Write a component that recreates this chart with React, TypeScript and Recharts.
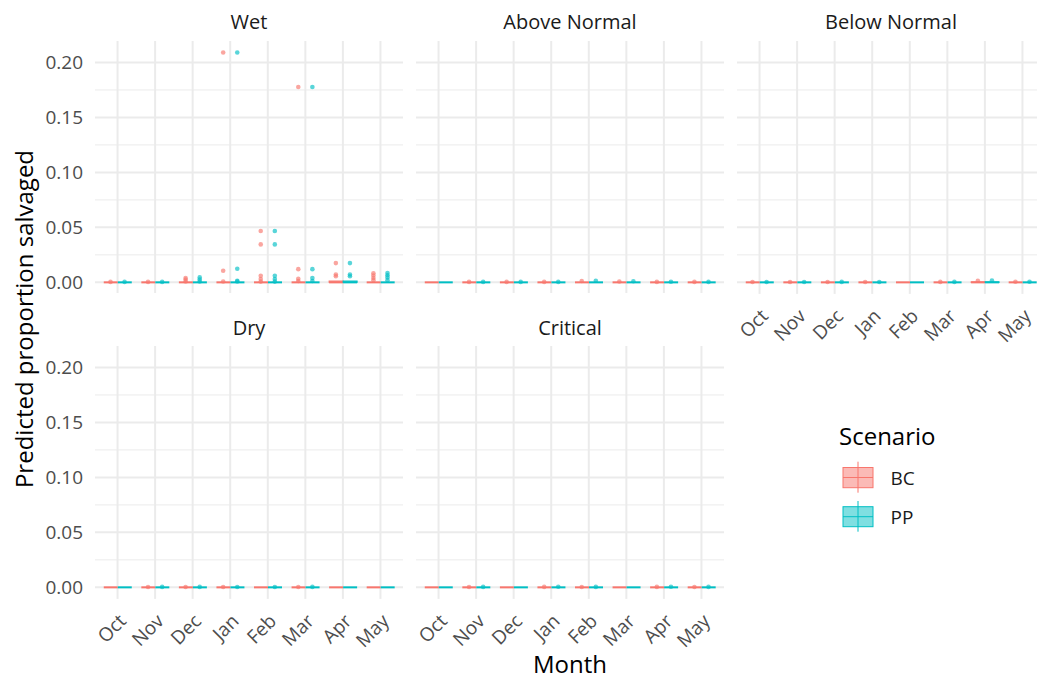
import { ComposedChart, Bar, Scatter, XAxis, YAxis, CartesianGrid, ReferenceLine } from "recharts";

// month categories and facets
const months = ["Oct", "Nov", "Dec", "Jan", "Feb", "Mar", "Apr", "May"];
const yTicks = [0, 0.05, 0.1, 0.15, 0.2];
const yMinor = [0.025, 0.075, 0.125, 0.175];

// box stats per month: [q1, median, q3]
const wetBoxBC = [[0, 0, 0], [0, 0, 0], [0, 0, 0], [0, 0, 0], [0, 0, 0], [0, 0, 0], [0, 0, 0.0012], [0, 0, 0]];
const wetBoxPP = [[0, 0, 0], [0, 0, 0], [0, 0, 0], [0, 0, 0], [0, 0, 0], [0, 0, 0], [0, 0, 0.0012], [0, 0, 0]];
const aboveBoxBC = [[0, 0, 0], [0, 0, 0], [0, 0, 0], [0, 0, 0], [0, 0, 0], [0, 0, 0], [0, 0, 0], [0, 0, 0]];
const aboveBoxPP = [[0, 0, 0], [0, 0, 0], [0, 0, 0], [0, 0, 0], [0, 0, 0], [0, 0, 0], [0, 0, 0], [0, 0, 0]];
const belowBoxBC = [[0, 0, 0], [0, 0, 0], [0, 0, 0], [0, 0, 0], [0, 0, 0], [0, 0, 0], [0, 0, 0.0004], [0, 0, 0]];
const belowBoxPP = [[0, 0, 0], [0, 0, 0], [0, 0, 0], [0, 0, 0], [0, 0, 0], [0, 0, 0], [0, 0, 0.0004], [0, 0, 0]];
const dryBoxBC = [[0, 0, 0], [0, 0, 0], [0, 0, 0], [0, 0, 0], [0, 0, 0], [0, 0, 0], [0, 0, 0], [0, 0, 0]];
const dryBoxPP = [[0, 0, 0], [0, 0, 0], [0, 0, 0], [0, 0, 0], [0, 0, 0], [0, 0, 0], [0, 0, 0], [0, 0, 0]];
const critBoxBC = [[0, 0, 0], [0, 0, 0], [0, 0, 0], [0, 0, 0], [0, 0, 0], [0, 0, 0], [0, 0, 0], [0, 0, 0]];
const critBoxPP = [[0, 0, 0], [0, 0, 0], [0, 0, 0], [0, 0, 0], [0, 0, 0], [0, 0, 0], [0, 0, 0], [0, 0, 0]];

// outliers per month
const wetOutBC = [[0.0004], [0.0004], [0.0008, 0.0025, 0.004], [0.0008, 0.0105, 0.209],
  [0.0007, 0.003, 0.006, 0.0345, 0.0467], [0.0012, 0.0032, 0.012, 0.1776], [0.0055, 0.0072, 0.0175], [0.002, 0.004, 0.0062, 0.0083]];
const wetOutPP = [[0.0004], [0.0004], [0.0008, 0.0025, 0.0045], [0.0008, 0.0015, 0.0123, 0.209],
  [0.0007, 0.003, 0.006, 0.0345, 0.0467], [0.0012, 0.004, 0.012, 0.1776], [0.0055, 0.0072, 0.0175], [0.002, 0.0045, 0.0065, 0.0085]];
const aboveOutBC = [[], [0.0004], [0.0004], [0.0004], [0.0012], [0.0008], [0.0004], [0.0004]];
const aboveOutPP = [[], [0.0004], [0.0004], [0.0004], [0.0015], [0.001], [0.0006], [0.0004]];
const belowOutBC = [[0.0003], [0.0003], [0.0003], [0.0003], [], [0.0004], [0.0015], [0.0005]];
const belowOutPP = [[0.0003], [0.0003], [0.0004], [0.0003], [], [0.0004], [0.0016], [0.0006]];
const dryOutBC = [[], [0.0003], [0.0003], [0.0003], [], [0.0003], [], []];
const dryOutPP = [[], [0.0004], [0.0004], [0.0003], [0.0003], [0.0004], [], []];
const critOutBC = [[], [0.0003], [], [0.0004], [0.0003], [], [0.0004], [0.0003]];
const critOutPP = [[], [0.0004], [], [0.0005], [0.0004], [], [0.0005], [0.0004]];

const BC = "#F8766D";
const PP = "#00BFC4";
const FONT = "Open Sans";
const PLOT_W = 308;
const PLOT_H = 252.9;
const YAXIS_W = 95;
const XAXIS_H = 60;
const SIDE_PAD = 20;
const DODGE = 0.1875;

function BoxShape(props: any) {
  const { x, y, width, height, stats, color } = props;
  if (!stats || x == null || y == null) return null;
  const [q1, med, q3] = stats;
  const hh = height || 0;
  const top = Math.min(y, y + hh);
  const h = Math.abs(hh);
  const medY = q3 > q1 ? top + (h * (q3 - med)) / (q3 - q1) : top;
  return (
    <g>
      <rect x={x} y={top} width={width} height={h} fill={color} fillOpacity={0.5} stroke={color} strokeWidth={1} />
      <line x1={x} x2={x + width} y1={medY} y2={medY} stroke={color} strokeWidth={2} />
    </g>
  );
}

function MonthTick({ x, y, payload }: any) {
  const ax = x + 9.8;
  const ay = y + 23.4;
  return (
    <text x={ax} y={ay} transform={`rotate(-45 ${ax} ${ay})`} textAnchor="end"
      fontSize={19} fill="#4d4d4d" fontFamily={FONT}>
      {payload.value}
    </text>
  );
}

function Panel({ left, top, bc, pp, bcOut, ppOut, showY, showX }: any) {
  const rows = months.map((m, i) => ({
    month: m, bc: bc[i], pp: pp[i],
    bcRange: [bc[i][0], bc[i][2]], ppRange: [pp[i][0], pp[i][2]],
  }));
  const bcPts = bcOut.flatMap((vals: number[], i: number) => vals.map(v => ({ x: i + 1 - DODGE, y: v })));
  const ppPts = ppOut.flatMap((vals: number[], i: number) => vals.map(v => ({ x: i + 1 + DODGE, y: v })));
  const yw = showY ? YAXIS_W : 0;
  const ml = showY ? 0 : SIDE_PAD;
  const xh = showX ? XAXIS_H : 0;
  return (
    <div style={{ position: "absolute", left: left - yw - ml, top }}>
      <ComposedChart width={ml + yw + PLOT_W + SIDE_PAD} height={PLOT_H + xh} data={rows}
        margin={{ top: 0, right: SIDE_PAD, bottom: 0, left: ml }} barGap={0}>
        <CartesianGrid stroke="#ebebeb" strokeWidth={2} horizontalValues={yTicks} verticalValues={months} />
        {yMinor.map(v => (
          <ReferenceLine key={v} y={v} stroke="#ebebeb" strokeWidth={1} />
        ))}
        <XAxis dataKey="month" type="category" hide={!showX} height={XAXIS_H}
          padding={{ left: 3.76, right: 3.76 }} axisLine={false} tickLine={false}
          tickSize={0} tickMargin={0} tick={<MonthTick />} interval={0} />
        <XAxis xAxisId="n" dataKey="x" type="number" domain={[0.4, 8.6]} allowDataOverflow hide />
        <YAxis type="number" domain={[-0.0105, 0.2195]} allowDataOverflow ticks={yTicks}
          hide={!showY} width={YAXIS_W} axisLine={false} tickLine={false} tickSize={0} tickMargin={12}
          tickFormatter={(v: number) => v.toFixed(2)}
          tick={{ fontSize: 19, fill: "#4d4d4d", fontFamily: FONT }} />
        <Bar dataKey="bcRange" barSize={14} isAnimationActive={false}
          shape={(p: any) => <BoxShape {...p} stats={p.payload?.bc} color={BC} />} />
        <Bar dataKey="ppRange" barSize={14} isAnimationActive={false}
          shape={(p: any) => <BoxShape {...p} stats={p.payload?.pp} color={PP} />} />
        <Scatter xAxisId="n" data={bcPts} dataKey="y" isAnimationActive={false}
          shape={(p: any) => <circle cx={p.cx} cy={p.cy} r={2.3} fill={BC} fillOpacity={0.65} />} />
        <Scatter xAxisId="n" data={ppPts} dataKey="y" isAnimationActive={false}
          shape={(p: any) => <circle cx={p.cx} cy={p.cy} r={2.3} fill={PP} fillOpacity={0.65} />} />
      </ComposedChart>
    </div>
  );
}

const COLS = [95, 416, 737];
const ROWS = [40.6, 346.1];

export default function App() {
  const strips = [
    { t: "Wet", c: 0, r: 0 }, { t: "Above Normal", c: 1, r: 0 }, { t: "Below Normal", c: 2, r: 0 },
    { t: "Dry", c: 0, r: 1 }, { t: "Critical", c: 1, r: 1 },
  ];
  return (
    <div style={{ position: "absolute", left: 0, top: 0, width: 1037, height: 676, overflow: "hidden", background: "#fff" }}>
      <svg width={1037} height={676} style={{ position: "absolute", left: 0, top: 0 }} fontFamily={FONT}>
        {strips.map(s => (
          <text key={s.t} x={COLS[s.c] + PLOT_W / 2} y={ROWS[s.r] - 11.3} textAnchor="middle" fontSize={20} fill="#1a1a1a">{s.t}</text>
        ))}
        <text x={32.5} y={319} transform="rotate(-90 32.5 319)" textAnchor="middle" fontSize={24} fill="#000">Predicted proportion salvaged</text>
        <text x={570} y={672.5} textAnchor="middle" fontSize={24} fill="#000">Month</text>
        {/* legend */}
        <text x={839} y={444.5} fontSize={24} fill="#000">Scenario</text>
        <line x1={858} x2={858} y1={461.7} y2={492.7} stroke={BC} strokeWidth={1} />
        <rect x={843} y={467.5} width={30} height={20.2} fill={BC} fillOpacity={0.5} stroke={BC} strokeWidth={1} />
        <line x1={843} x2={873} y1={477.5} y2={477.5} stroke={BC} strokeWidth={1} />
        <text x={890.5} y={484.5} fontSize={19} fill="#1a1a1a">BC</text>
        <line x1={858} x2={858} y1={501} y2={531.7} stroke={PP} strokeWidth={1} />
        <rect x={843} y={506.7} width={30} height={20} fill={PP} fillOpacity={0.5} stroke={PP} strokeWidth={1} />
        <line x1={843} x2={873} y1={516.7} y2={516.7} stroke={PP} strokeWidth={1} />
        <text x={890.5} y={523.5} fontSize={19} fill="#1a1a1a">PP</text>
      </svg>
      <Panel left={COLS[0]} top={ROWS[0]} bc={wetBoxBC} pp={wetBoxPP} bcOut={wetOutBC} ppOut={wetOutPP} showY />
      <Panel left={COLS[1]} top={ROWS[0]} bc={aboveBoxBC} pp={aboveBoxPP} bcOut={aboveOutBC} ppOut={aboveOutPP} />
      <Panel left={COLS[2]} top={ROWS[0]} bc={belowBoxBC} pp={belowBoxPP} bcOut={belowOutBC} ppOut={belowOutPP} showX />
      <Panel left={COLS[0]} top={ROWS[1]} bc={dryBoxBC} pp={dryBoxPP} bcOut={dryOutBC} ppOut={dryOutPP} showY showX />
      <Panel left={COLS[1]} top={ROWS[1]} bc={critBoxBC} pp={critBoxPP} bcOut={critOutBC} ppOut={critOutPP} showX />
    </div>
  );
}
